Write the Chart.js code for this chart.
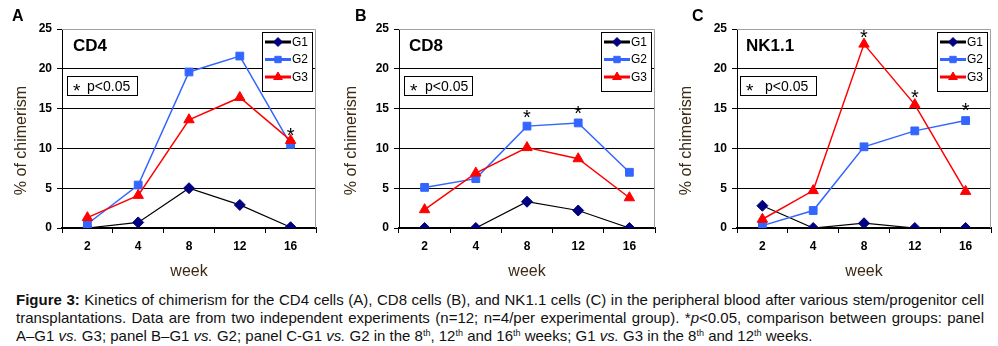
<!DOCTYPE html>
<html>
<head>
<meta charset="utf-8">
<script src="https://cdn.jsdelivr.net/npm/chart.js@4.4.0/dist/chart.umd.min.js"></script>
<style>
  body { margin: 0; background: #fff; width: 998px; height: 346px; overflow: hidden; position: relative;
         font-family: "Liberation Sans", Arial, sans-serif; }
  canvas { position: absolute; top: 0; }
  .letter { position: absolute; top: 8px; font: bold 16px/16px "Liberation Sans", Arial, sans-serif; }
  #caption { position: absolute; left: 16px; top: 291px; width: 968px; font-size: 15px; line-height: 18px; color: #111; }
  #caption .j { text-align: justify; text-align-last: justify; }
  #caption sup { font-size: 9px; line-height: 0; vertical-align: 5px; }
</style>
</head>
<body>
<canvas id="chartA" width="330" height="285" style="left:0px"></canvas>
<canvas id="chartB" width="335" height="285" style="left:330px"></canvas>
<canvas id="chartC" width="333" height="285" style="left:665px"></canvas>
<div class="letter" style="left:12px">A</div>
<div class="letter" style="left:355px">B</div>
<div class="letter" style="left:692px">C</div>
<div id="caption">
  <div class="j"><b>Figure 3:</b> Kinetics of chimerism for the CD4 cells (A), CD8 cells (B), and NK1.1 cells (C) in the peripheral blood after various stem/progenitor cell</div>
  <div class="j">transplantations. Data are from two independent experiments (n=12; n=4/per experimental group). *<i>p</i>&lt;0.05, comparison between groups: panel</div>
  <div>A–G1 <i>vs.</i> G3; panel B–G1 <i>vs.</i> G2; panel C-G1 <i>vs.</i> G2 in the 8<sup>th</sup>, 12<sup>th</sup> and 16<sup>th</sup> weeks; G1 <i>vs.</i> G3 in the 8<sup>th</sup> and 12<sup>th</sup> weeks.</div>
</div>
<script>
// data (% of chimerism per week)
const weeks = ['2', '4', '8', '12', '16'];
const groups = ['G1', 'G2', 'G3'];

const cd4G1 = [0, 0.7, 5.0, 2.9, 0.1];
const cd4G2 = [0.5, 5.4, 19.6, 21.6, 10.5];
const cd4G3 = [1.3, 4.1, 13.6, 16.4, 11.0];
const cd4Stars = [null, null, null, null, 12.2];

const cd8G1 = [0, 0, 3.3, 2.2, 0];
const cd8G2 = [5.1, 6.2, 12.8, 13.2, 7.0];
const cd8G3 = [2.3, 6.9, 10.1, 8.7, 3.8];
const cd8Stars = [null, null, 14.5, 14.9, null];

const nkG1 = [2.8, 0, 0.6, 0, 0];
const nkG2 = [0.3, 2.2, 10.2, 12.2, 13.5];
const nkG3 = [1.1, 4.7, 23.1, 15.5, 4.6];
const nkStars = [null, null, 24.5, 17.0, 15.3];

const FONT = '"Liberation Sans", Arial, sans-serif';
const TITLE_COLOR = '#3b2b14';
Chart.defaults.font.family = FONT;
Chart.defaults.color = '#000';

// look of each group: line colour, marker colour, marker
const groupStyle = [
  { line: '#000000', mark: '#000080', shape: 'rectRot', r: 5.5, w: 1.2 },
  { line: '#3366ff', mark: '#3366ff', shape: 'rect', r: 5.5, w: 1.5 },
  { line: '#ff0000', mark: '#ff0000', shape: 'triangle', r: 6, w: 1.5 }
];

// boxes, panel name, stars and y title
const decor = {
  id: 'decor',
  beforeDatasetsDraw(chart) {
    const a = chart.chartArea, ctx = chart.ctx;
    ctx.save();
    ctx.strokeStyle = '#a0a0a0';
    ctx.lineWidth = 1;
    ctx.beginPath();
    ctx.moveTo(a.left, a.top + 0.5);
    ctx.lineTo(a.right - 0.5, a.top + 0.5);
    ctx.lineTo(a.right - 0.5, a.bottom);
    ctx.stroke();
    ctx.restore();
  },
  afterDatasetsDraw(chart, args, opts) {
    const a = chart.chartArea, ctx = chart.ctx;
    const x = chart.scales.x, y = chart.scales.y;
    ctx.save();

    // panel name
    ctx.fillStyle = '#000';
    ctx.font = 'bold 17px ' + FONT;
    ctx.textBaseline = 'middle';
    ctx.textAlign = 'left';
    ctx.fillText(opts.name, a.left + opts.nameDx, a.top + 17);

    // * p<0.05 box
    const bx = a.left + opts.pDx, by = a.top + 47;
    ctx.fillStyle = '#fff';
    ctx.fillRect(bx, by, opts.pW, 20);
    ctx.strokeStyle = '#000';
    ctx.lineWidth = 1;
    ctx.strokeRect(bx + 0.5, by + 0.5, opts.pW - 1, 19);
    ctx.fillStyle = '#000';
    ctx.textBaseline = 'alphabetic';
    ctx.font = '19px ' + FONT;
    ctx.fillText('*', bx + 6, by + 21);
    ctx.font = '14px ' + FONT;
    ctx.fillText('p<0.05', bx + opts.pTextDx, by + 15);

    // legend
    const lw = 51, lh = 60;
    const lx = a.right - 3 - lw, ly = a.top + 3;
    ctx.fillStyle = '#fff';
    ctx.fillRect(lx, ly, lw, lh);
    ctx.strokeStyle = '#000';
    ctx.strokeRect(lx + 0.5, ly + 0.5, lw - 1, lh - 1);
    ctx.font = '12px ' + FONT;
    ctx.textBaseline = 'middle';
    groups.forEach((g, i) => {
      const s = groupStyle[i];
      const yy = ly + 10 + i * 17.5;
      ctx.strokeStyle = s.line;
      ctx.lineWidth = 3;
      ctx.beginPath();
      ctx.moveTo(lx + 3, yy);
      ctx.lineTo(lx + 29, yy);
      ctx.stroke();
      ctx.fillStyle = s.mark;
      ctx.strokeStyle = s.mark;
      ctx.lineWidth = 1;
      Chart.helpers.drawPoint(ctx, { pointStyle: s.shape, radius: s.r - 1, borderWidth: 1 }, lx + 16, yy);
      ctx.fillStyle = '#000';
      ctx.fillText(g, lx + 30, yy + 0.5);
    });

    // significance stars
    ctx.font = '20px ' + FONT;
    ctx.textAlign = 'center';
    ctx.textBaseline = 'alphabetic';
    ctx.fillStyle = '#000';
    opts.stars.forEach((v, i) => {
      if (v === null) return;
      ctx.fillText('*', x.getPixelForValue(i), y.getPixelForValue(v) + 11);
    });
    ctx.restore();
  },
  afterDraw(chart) {
    const a = chart.chartArea, ctx = chart.ctx;
    ctx.save();
    ctx.translate(22, (a.top + a.bottom) / 2 + 12);
    ctx.rotate(-Math.PI / 2);
    ctx.font = '16px ' + FONT;
    ctx.fillStyle = TITLE_COLOR;
    ctx.textAlign = 'center';
    ctx.textBaseline = 'middle';
    ctx.fillText('% of chimerism', 0, 0);
    ctx.restore();
  }
};

function makePanel(id, name, series, stars, axisW, padR, box) {
  const datasets = series.map((d, i) => {
    const s = groupStyle[i];
    return {
      label: groups[i],
      data: d,
      borderColor: s.line,
      borderWidth: s.w,
      pointStyle: s.shape,
      pointRadius: s.r,
      pointBackgroundColor: s.mark,
      pointBorderColor: s.mark,
      pointBorderWidth: 1,
      tension: 0,
      order: 2 - i
    };
  });

  new Chart(document.getElementById(id), {
    type: 'line',
    data: { labels: weeks, datasets: datasets },
    plugins: [decor],
    options: {
      responsive: false,
      animation: false,
      events: [],
      devicePixelRatio: 1,
      layout: { padding: { top: 29, right: padR, left: 0, bottom: 0 } },
      plugins: {
        legend: { display: false },
        tooltip: { enabled: false },
        decor: Object.assign({ name: name, stars: stars }, box)
      },
      scales: {
        x: {
          offset: true,
          grid: { offset: true, drawOnChartArea: false, tickLength: 5, color: '#000' },
          border: { color: '#000', width: 2 },
          ticks: { color: '#000', font: { size: 12, weight: 'bold' }, padding: 6, maxRotation: 0 },
          title: { display: true, text: 'week', color: TITLE_COLOR, font: { size: 16 }, padding: { top: 0, bottom: 4 } },
          afterFit: s => { s.height = 57; }
        },
        y: {
          min: 0,
          max: 25,
          ticks: { stepSize: 5, color: '#000', font: { size: 12, weight: 'bold' }, padding: 5 },
          grid: {
            color: c => (c.tick && c.tick.value === 25 ? 'rgba(0,0,0,0)' : '#000'),
            tickColor: '#000',
            tickLength: 5
          },
          border: { color: '#000', width: 1 },
          afterFit: s => { s.width = axisW; }
        }
      }
    }
  });
}

makePanel('chartA', 'CD4', [cd4G1, cd4G2, cd4G3], cd4Stars, 62, 14, { nameDx: 11, pDx: 5, pW: 71, pTextDx: 20 });
makePanel('chartB', 'CD8', [cd8G1, cd8G2, cd8G3], cd8Stars, 69, 10, { nameDx: 10, pDx: 5, pW: 69, pTextDx: 21 });
makePanel('chartC', 'NK1.1', [nkG1, nkG2, nkG3], nkStars, 72, 6, { nameDx: 9, pDx: 3, pW: 77, pTextDx: 25 });
</script>
</body>
</html>
